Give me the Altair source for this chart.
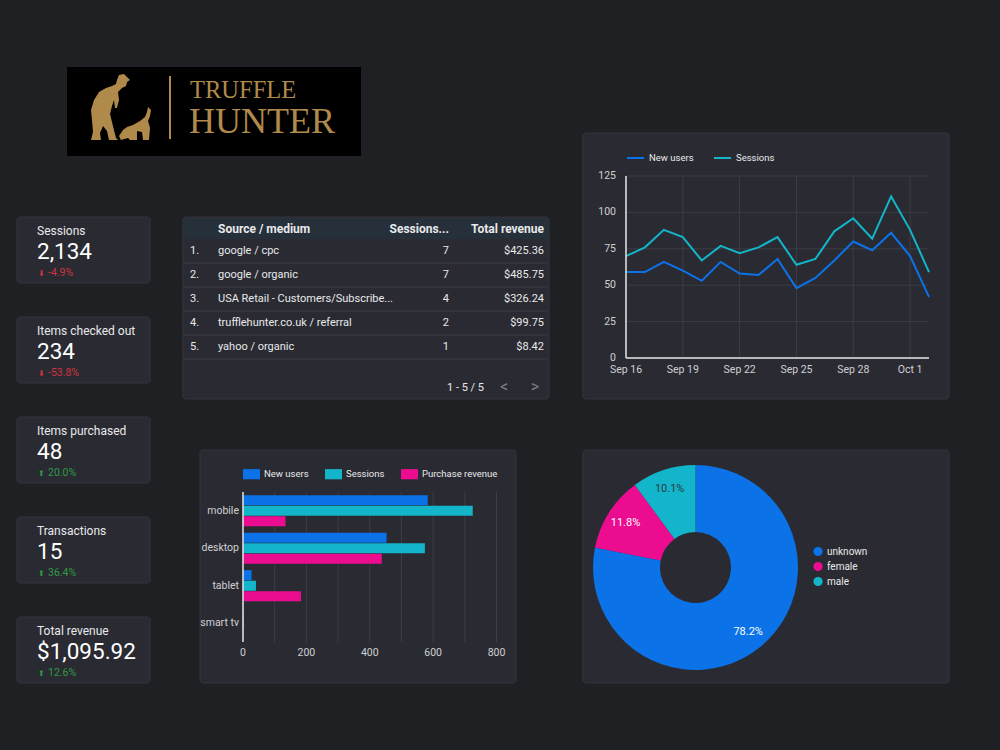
import altair as alt
import pandas as pd

# ---------------- data ----------------
card_labels = ["Sessions", "Items checked out", "Items purchased", "Transactions", "Total revenue"]
card_values = ["2,134", "234", "48", "15", "$1,095.92"]
card_deltas = [-4.9, -53.8, 20.0, 36.4, 12.6]

tbl_rank = [1, 2, 3, 4, 5]
tbl_source = ["google / cpc", "google / organic", "USA Retail - Customers/Subscribe...",
              "trufflehunter.co.uk / referral", "yahoo / organic"]
tbl_sessions = [7, 7, 4, 2, 1]
tbl_revenue = [425.36, 485.75, 326.24, 99.75, 8.42]
tbl_headers = ["Source / medium", "Sessions...", "Total revenue"]
tbl_footer = "1 - 5 / 5"

line_dates = ["2022-09-16", "2022-09-17", "2022-09-18", "2022-09-19", "2022-09-20", "2022-09-21",
              "2022-09-22", "2022-09-23", "2022-09-24", "2022-09-25", "2022-09-26", "2022-09-27",
              "2022-09-28", "2022-09-29", "2022-09-30", "2022-10-01", "2022-10-02"]
line_new_users = [59, 59, 66, 60, 53, 66, 58, 57, 68, 48, 55, 67, 80, 74, 86, 70, 42]
line_sessions = [70, 76, 88, 83, 67, 77, 72, 76, 83, 64, 68, 87, 96, 82, 111, 88, 59]
line_series = ["New users", "Sessions"]
line_tick_dates = ["2022-09-16", "2022-09-19", "2022-09-22", "2022-09-25", "2022-09-28", "2022-10-01"]
line_tick_labels = ["Sep 16", "Sep 19", "Sep 22", "Sep 25", "Sep 28", "Oct 1"]
line_y_ticks = [0, 25, 50, 75, 100, 125]

bar_devices = ["mobile", "desktop", "tablet", "smart tv"]
bar_metrics = ["New users", "Sessions", "Purchase revenue"]
bar_new_users = [583, 453, 27, 2]
bar_sessions = [725, 574, 41, 2]
bar_revenue = [134, 438, 183, 0]
bar_grid_ticks = [0, 100, 200, 300, 400, 500, 600, 700, 800]
bar_label_ticks = [0, 200, 400, 600, 800]

pie_labels = ["unknown", "female", "male"]
pie_shares = [78.2, 11.8, 10.1]

# ---------------- style / layout ----------------
FONT = "Roboto"
BG = "#1f2024"
PANEL = "#2a2b32"
PANEL_STROKE = "#34353c"
HEADER = "#25303a"
GRID = "#3c3d45"
TEXT = "#e8e9eb"
AXIS_TXT = "#cfd0d3"
BLUE = "#0b72e8"
TEAL = "#12b5c9"
PINK = "#ec0c90"
GOLD = "#b08a4b"
RED = "#cf3340"
GREEN = "#2f9a45"

LOGO_BOX = (67, 67, 361, 156)
LOGO_MAN = [(117, 80), (119, 75), (124, 74), (127, 77), (130, 80), (127, 82), (126, 86), (122, 88),
            (118, 92), (119, 100), (117, 108), (115, 108), (114, 100), (112, 106), (110, 114),
            (112, 122), (114, 130), (116, 138), (118, 140), (109, 140), (107, 131), (103, 126),
            (100, 133), (101, 140), (91, 140), (93, 132), (92, 120), (91, 110), (94, 100),
            (99, 92), (106, 88), (112, 86), (116, 84)]
LOGO_DOG = [(148, 107), (151, 110), (150, 116), (148, 121), (150, 128), (149, 140), (143, 140),
            (142, 132), (137, 131), (137, 140), (130, 140), (128, 138), (121, 140), (119, 136),
            (123, 130), (127, 127), (133, 125), (140, 121), (145, 117), (147, 112)]
LOGO_C = (120, 108, 32)

CARD_X = (17, 150)
CARD_TOPS = (217, 617)
CARD_H = 66

TABLE = (183, 217, 549, 399)
LINE_PANEL = (583, 133, 949, 399)
LINE_PLOT = (626, 176, 929, 358)
BAR_PANEL = (200, 450, 516, 683)
BAR_PLOT = (243, 492, 496.5, 642)
PIE_PANEL = (583, 450, 949, 683)
PIE_C = (695.5, 567.5)
PIE_R = (35.5, 102.5)

ONE = alt.Data(values=[{"k": 1}])


def one(text=None):
    return alt.Data(values=[{"t": text if text is not None else ""}])


# ---------------- panels ----------------
panels = pd.DataFrame([TABLE, LINE_PANEL, BAR_PANEL, PIE_PANEL], columns=["x0", "y0", "x1", "y1"])
panel_layer = alt.Chart(panels).mark_rect(fill=PANEL, stroke=PANEL_STROKE, strokeWidth=1, cornerRadius=3).encode(
    x=alt.X("x0:Q", scale=None), x2="x1:Q", y=alt.Y("y0:Q", scale=None), y2="y1:Q")

# ---------------- logo ----------------
def poly_path(pts, cx, cy, s):
    return "M" + "L".join(f"{(x - cx) / s:.3f},{(y - cy) / s:.3f}" for x, y in pts) + "Z"

logo_path = poly_path(LOGO_MAN, *LOGO_C) + poly_path(LOGO_DOG, *LOGO_C)
logo = alt.layer(
    alt.Chart(ONE).mark_rect(fill="#000000").encode(
        x=alt.value(LOGO_BOX[0]), x2=alt.value(LOGO_BOX[2]), y=alt.value(LOGO_BOX[1]), y2=alt.value(LOGO_BOX[3])),
    alt.Chart(ONE).mark_rule(color=GOLD, strokeWidth=2).encode(
        x=alt.value(170), y=alt.value(76), y2=alt.value(139)),
    alt.Chart(ONE).mark_point(shape=logo_path, filled=True, fill=GOLD, strokeWidth=0, opacity=1,
                              size=(2 * LOGO_C[2]) ** 2).encode(
        x=alt.value(LOGO_C[0]), y=alt.value(LOGO_C[1])),
    alt.Chart(one("TRUFFLE")).mark_text(font="Liberation Serif", fontSize=24.5, color=GOLD, align="left",
                                        baseline="alphabetic").encode(
        x=alt.value(190), y=alt.value(98), text="t:N"),
    alt.Chart(one("HUNTER")).mark_text(font="Liberation Serif", fontSize=36, color=GOLD, align="left",
                                       baseline="alphabetic").encode(
        x=alt.value(189), y=alt.value(132.5), text="t:N"),
)

# ---------------- scorecards ----------------
cards = pd.DataFrame({"i": list(range(len(card_labels))), "label": card_labels, "value": card_values,
                      "delta": card_deltas})
cards["arrow"] = ["⬆" if d >= 0 else "⬇" for d in card_deltas]
cards["delta_txt"] = [f"{d:.1f}%" for d in card_deltas]
ycard = alt.Y("i:Q", scale=alt.Scale(domain=[0, len(card_labels) - 1], range=list(CARD_TOPS), nice=False,
                                     zero=False), axis=None)
delta_color = alt.condition("datum.delta < 0", alt.value(RED), alt.value(GREEN))
cbase = alt.Chart(cards)
card_layer = alt.layer(
    cbase.mark_rect(fill=PANEL, stroke=PANEL_STROKE, strokeWidth=1, cornerRadius=3, y2Offset=CARD_H).encode(
        x=alt.value(CARD_X[0]), x2=alt.value(CARD_X[1]), y=ycard, y2="i:Q"),
    cbase.mark_text(align="left", baseline="alphabetic", dy=18, fontSize=12, color=TEXT).encode(
        x=alt.value(37), y=ycard, text="label:N"),
    cbase.mark_text(align="left", baseline="alphabetic", dy=42, fontSize=22.5, color="#ffffff").encode(
        x=alt.value(37), y=ycard, text="value:N"),
    cbase.mark_text(align="center", baseline="alphabetic", dy=58.5, fontSize=7.5).encode(
        x=alt.value(41), y=ycard, text="arrow:N", color=delta_color),
    cbase.mark_text(align="left", baseline="alphabetic", dy=59, fontSize=10.5).encode(
        x=alt.value(48), y=ycard, text="delta_txt:N", color=delta_color),
)

# ---------------- table ----------------
tbl = pd.DataFrame({"rank": tbl_rank, "num": [f"{r}." for r in tbl_rank], "source": tbl_source,
                    "sessions": tbl_sessions, "revenue": [f"${v:,.2f}" for v in tbl_revenue]})
yrow = alt.Y("rank:Q", scale=alt.Scale(domain=[1, 5], range=[251, 347], nice=False, zero=False), axis=None)
tb = alt.Chart(tbl)
table_layer = alt.layer(
    alt.Chart(ONE).mark_rect(fill=HEADER, cornerRadiusTopLeft=3, cornerRadiusTopRight=3).encode(
        x=alt.value(TABLE[0] + 1), x2=alt.value(TABLE[2] - 1), y=alt.value(TABLE[1] + 1), y2=alt.value(239)),
    alt.Chart(one(tbl_headers[0])).mark_text(align="left", baseline="middle", fontSize=12, fontWeight="bold",
                                             color=TEXT).encode(x=alt.value(218), y=alt.value(229), text="t:N"),
    alt.Chart(one(tbl_headers[1])).mark_text(align="right", baseline="middle", fontSize=12, fontWeight="bold",
                                             color=TEXT).encode(x=alt.value(449), y=alt.value(229), text="t:N"),
    alt.Chart(one(tbl_headers[2])).mark_text(align="right", baseline="middle", fontSize=12, fontWeight="bold",
                                             color=TEXT).encode(x=alt.value(544), y=alt.value(229), text="t:N"),
    tb.mark_rule(color="#3a3b43", strokeWidth=1, yOffset=12).encode(
        x=alt.value(TABLE[0]), x2=alt.value(TABLE[2]), y=yrow),
    tb.mark_text(align="left", baseline="middle", fontSize=11, color=TEXT).encode(
        x=alt.value(190), y=yrow, text="num:N"),
    tb.mark_text(align="left", baseline="middle", fontSize=11, color=TEXT).encode(
        x=alt.value(218), y=yrow, text="source:N"),
    tb.mark_text(align="right", baseline="middle", fontSize=11, color=TEXT).encode(
        x=alt.value(449), y=yrow, text="sessions:Q"),
    tb.mark_text(align="right", baseline="middle", fontSize=11, color=TEXT).encode(
        x=alt.value(544), y=yrow, text="revenue:N"),
    alt.Chart(one(tbl_footer)).mark_text(align="left", baseline="middle", fontSize=11, color=TEXT).encode(
        x=alt.value(447), y=alt.value(388), text="t:N"),
    alt.Chart(one("<")).mark_text(align="center", baseline="middle", fontSize=16, color="#7c7d84").encode(
        x=alt.value(504), y=alt.value(387), text="t:N"),
    alt.Chart(one(">")).mark_text(align="center", baseline="middle", fontSize=16, color="#7c7d84").encode(
        x=alt.value(535), y=alt.value(387), text="t:N"),
)

# ---------------- line chart ----------------
line_df = pd.DataFrame({
    "date": pd.to_datetime(line_dates + line_dates),
    "series": [line_series[0]] * len(line_dates) + [line_series[1]] * len(line_dates),
    "value": line_new_users + line_sessions,
})
xline = alt.X("date:T", scale=alt.Scale(range=[LINE_PLOT[0], LINE_PLOT[2]]), axis=None)
yline = alt.Y("value:Q", scale=alt.Scale(domain=[0, 125], range=[LINE_PLOT[3], LINE_PLOT[1]], nice=False),
              axis=None)
ytick_df = pd.DataFrame({"value": line_y_ticks})
xtick_df = pd.DataFrame({"date": pd.to_datetime(line_tick_dates), "label": line_tick_labels})
line_layer = alt.layer(
    alt.Chart(ytick_df).mark_rule(color=GRID, strokeWidth=1).encode(
        y=yline, x=alt.value(LINE_PLOT[0]), x2=alt.value(LINE_PLOT[2])),
    alt.Chart(xtick_df).mark_rule(color=GRID, strokeWidth=1).encode(
        x=xline, y=alt.value(LINE_PLOT[1]), y2=alt.value(LINE_PLOT[3])),
    alt.Chart(line_df).mark_line(strokeWidth=2).encode(
        x=xline, y=yline,
        color=alt.Color("series:N", scale=alt.Scale(domain=line_series, range=[BLUE, TEAL]),
                        legend=alt.Legend(orient="none", legendX=626, legendY=148.5, direction="horizontal",
                                          title=None, symbolType="stroke", symbolSize=289,
                                          symbolStrokeWidth=2, labelColor=TEXT, labelFontSize=9.5,
                                          labelFont=FONT, labelOffset=4, columnPadding=16, padding=0))),
    alt.Chart(ytick_df).mark_text(align="right", baseline="middle", fontSize=10.5, color=AXIS_TXT).encode(
        y=yline, x=alt.value(616), text="value:Q"),
    alt.Chart(xtick_df).mark_text(align="center", baseline="middle", fontSize=10.5, color=AXIS_TXT).encode(
        x=xline, y=alt.value(370), text="label:N"),
    alt.Chart(ONE).mark_rule(color="#e6e6e6", strokeWidth=1.5).encode(
        x=alt.value(LINE_PLOT[0]), y=alt.value(LINE_PLOT[1]), y2=alt.value(LINE_PLOT[3])),
    alt.Chart(ONE).mark_rule(color="#e6e6e6", strokeWidth=1.5).encode(
        x=alt.value(LINE_PLOT[0]), x2=alt.value(LINE_PLOT[2]), y=alt.value(LINE_PLOT[3])),
)

# ---------------- bar chart ----------------
bar_df = pd.DataFrame({
    "device": bar_devices * 3,
    "metric": [m for m in bar_metrics for _ in bar_devices],
    "value": bar_new_users + bar_sessions + bar_revenue,
})
xbar = alt.X("value:Q", scale=alt.Scale(domain=[0, 800], range=[BAR_PLOT[0], BAR_PLOT[2]], nice=False),
             axis=None)
ybar = alt.Y("device:N", sort=bar_devices,
             scale=alt.Scale(domain=bar_devices, range=[BAR_PLOT[1], BAR_PLOT[3]], paddingInner=0,
                             paddingOuter=0), axis=None)
rect_sym = "M-1,-0.6H1V0.6H-1Z"
bar_layer = alt.layer(
    alt.Chart(pd.DataFrame({"value": bar_grid_ticks})).mark_rule(color=GRID, strokeWidth=1).encode(
        x=xbar, y=alt.value(BAR_PLOT[1]), y2=alt.value(BAR_PLOT[3])),
    alt.Chart(bar_df).mark_bar().encode(
        x=xbar, y=ybar,
        yOffset=alt.YOffset("metric:N", sort=bar_metrics,
                            scale=alt.Scale(domain=bar_metrics, paddingInner=0.04, paddingOuter=0.3)),
        color=alt.Color("metric:N", scale=alt.Scale(domain=bar_metrics, range=[BLUE, TEAL, PINK]),
                        legend=alt.Legend(orient="none", legendX=243, legendY=465.5, direction="horizontal",
                                          title=None, symbolType=rect_sym, symbolSize=289,
                                          symbolStrokeWidth=0, labelColor=TEXT, labelFontSize=9.5,
                                          labelFont=FONT, labelOffset=4, columnPadding=16, padding=0))),
    alt.Chart(pd.DataFrame({"value": bar_label_ticks})).mark_text(
        align="center", baseline="middle", fontSize=10.5, color=AXIS_TXT).encode(
        x=xbar, y=alt.value(653), text="value:Q"),
    alt.Chart(pd.DataFrame({"device": bar_devices})).mark_text(
        align="right", baseline="middle", fontSize=10.5, color=AXIS_TXT).encode(
        y=ybar, x=alt.value(239), text="device:N"),
    alt.Chart(ONE).mark_rule(color="#e6e6e6", strokeWidth=1.5).encode(
        x=alt.value(BAR_PLOT[0]), y=alt.value(BAR_PLOT[1]), y2=alt.value(BAR_PLOT[3])),
)

# ---------------- donut ----------------
pie_df = pd.DataFrame({"gender": pie_labels, "share": pie_shares, "order": list(range(len(pie_labels)))})
pie_df["label"] = [f"{v:.1f}%" for v in pie_shares]
pbase = alt.Chart(pie_df).encode(
    theta=alt.Theta("share:Q", stack=True),
    order=alt.Order("order:Q"),
    x=alt.value(PIE_C[0]), y=alt.value(PIE_C[1]),
)
pie_layer = alt.layer(
    pbase.mark_arc(innerRadius=PIE_R[0], outerRadius=PIE_R[1], stroke=None).encode(
        color=alt.Color("gender:N", sort=pie_labels,
                        scale=alt.Scale(domain=pie_labels, range=[BLUE, PINK, TEAL]),
                        legend=alt.Legend(orient="none", legendX=813, legendY=546.5, direction="vertical",
                                          title=None, symbolType="circle", symbolSize=85,
                                          symbolStrokeWidth=0, labelColor=TEXT, labelFontSize=10,
                                          labelFont=FONT, labelOffset=4, rowPadding=5, padding=0))),
    pbase.mark_text(radius=83, fontSize=11, baseline="middle", align="center").encode(
        text="label:N",
        color=alt.condition("datum.gender == 'male'", alt.value("#2e3b42"), alt.value("#ffffff"))),
)

chart = alt.layer(
    panel_layer, logo, card_layer, table_layer, line_layer, bar_layer, pie_layer
).resolve_scale(
    x="independent", y="independent", color="independent"
).properties(
    width=1000, height=750, padding=0, background=BG,
    autosize=alt.AutoSizeParams(type="none"),
).configure(font=FONT).configure_view(stroke=None)

chart.save("out.html", embed_options={"renderer": "svg", "actions": False})
